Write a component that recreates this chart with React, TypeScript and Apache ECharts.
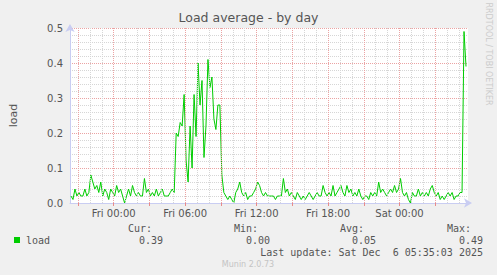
import React, { useEffect, useRef } from "react";
import * as echarts from "echarts";

// Time is expressed in minutes relative to Fri 00:00
const START_MINUTE = -215; // Thu 20:25
const STEP_MINUTES = 10;
const X_MIN = -220;
const X_MAX = 1785;

const loadValues = [
  0.02, 0.01, 0.04, 0.02, 0.03, 0.02, 0.02, 0.04, 0.02, 0.03,
  0.08, 0.06, 0.04, 0.05, 0.03, 0.06, 0.02, 0.04, 0.03, 0.01,
  0.04, 0.03, 0.02, 0.05, 0.03, 0.04, 0.02, 0.00, 0.02, 0.04,
  0.02, 0.05, 0.03, 0.02, 0.03, 0.02, 0.02, 0.07, 0.03, 0.04,
  0.02, 0.03, 0.02, 0.04, 0.02, 0.03, 0.04, 0.02, 0.02, 0.02,
  0.03, 0.04, 0.03, 0.20, 0.19, 0.23, 0.22, 0.31, 0.12, 0.06,
  0.22, 0.10, 0.31, 0.19, 0.40, 0.28, 0.35, 0.13, 0.22, 0.41,
  0.33, 0.36, 0.24, 0.21, 0.28, 0.28, 0.08, 0.03, 0.02, 0.01,
  0.02, 0.01, 0.00, 0.03, 0.04, 0.06, 0.03, 0.02, 0.03, 0.01,
  0.02, 0.02, 0.03, 0.04, 0.06, 0.05, 0.03, 0.02, 0.03, 0.02,
  0.02, 0.02, 0.02, 0.01, 0.02, 0.02, 0.02, 0.07, 0.03, 0.04,
  0.02, 0.03, 0.02, 0.01, 0.03, 0.02, 0.01, 0.02, 0.01, 0.02,
  0.03, 0.02, 0.01, 0.02, 0.03, 0.02, 0.02, 0.05, 0.03, 0.02,
  0.03, 0.02, 0.05, 0.02, 0.03, 0.04, 0.05, 0.03, 0.02, 0.05,
  0.03, 0.04, 0.02, 0.03, 0.02, 0.04, 0.02, 0.01, 0.02, 0.02,
  0.01, 0.03, 0.02, 0.03, 0.02, 0.06, 0.03, 0.04, 0.03, 0.02,
  0.03, 0.04, 0.03, 0.05, 0.03, 0.04, 0.07, 0.03, 0.02, 0.03,
  0.01, 0.00, 0.03, 0.02, 0.02, 0.04, 0.02, 0.03, 0.02, 0.03,
  0.02, 0.04, 0.05, 0.03, 0.02, 0.03, 0.01, 0.02, 0.01, 0.02,
  0.03, 0.02, 0.03, 0.01, 0.02, 0.02, 0.03, 0.03, 0.49, 0.39,
];

const xLabelMinutes = [0, 360, 720, 1080, 1440];
const xLabelTexts = ["Fri 00:00", "Fri 06:00", "Fri 12:00", "Fri 18:00", "Sat 00:00"];
const majorGridMinutes = [-180, 0, 180, 360, 540, 720, 900, 1080, 1260, 1440, 1620];
const minorGridMinutes = [
  -120, -60, 60, 120, 240, 300, 420, 480, 600, 660, 780, 840, 960, 1020,
  1140, 1200, 1320, 1380, 1500, 1560, 1680, 1740,
];

const seriesName = "load";
const statLabels = ["Cur:", "Min:", "Avg:", "Max:"];
const statValues = ["0.39", "0.00", "0.05", "0.49"];
const lastUpdateText = "Last update: Sat Dec  6 05:35:03 2025";
const titleText = "Load average - by day";
const footerText = "Munin 2.0.73";
const watermarkText = "RRDTOOL / TOBI OETIKER";

const LINE_GREEN = "#00cc00";
const MAJOR_GRID = "#eba3a3";
const MINOR_GRID = "#d6d6d6";
const AXIS_COLOR = "#c9cdf2";
const TEXT_COLOR = "#555555";
const MONO = "'DejaVu Sans Mono', monospace";
const SANS = "'DejaVu Sans', sans-serif";

export default function App() {
  const ref = useRef<HTMLDivElement>(null);

  useEffect(() => {
    if (!ref.current) return;
    const chart = echarts.init(ref.current, undefined, { renderer: "svg" });

    const data = loadValues.map((v, i) => [START_MINUTE + i * STEP_MINUTES, v]);

    const gridMarks = [
      ...minorGridMinutes.map((m) => ({
        xAxis: m,
        lineStyle: { color: MINOR_GRID, type: [1, 1], width: 1 },
      })),
      ...majorGridMinutes.map((m) => ({
        xAxis: m,
        lineStyle: { color: MAJOR_GRID, type: [1, 1], width: 1 },
      })),
    ];

    const colX = [128, 234, 340, 447];
    const valX = [139, 246, 352, 459];

    const graphics: any[] = [
      {
        type: "text",
        x: 488,
        y: 54,
        rotation: -Math.PI / 2,
        style: {
          text: watermarkText,
          fill: "#cccccc",
          font: `8px ${SANS}`,
          align: "center",
          verticalAlign: "middle",
        },
      },
      {
        type: "rect",
        shape: { x: 14, y: 237, width: 6, height: 6 },
        style: { fill: LINE_GREEN },
      },
      {
        type: "text",
        x: 26,
        y: 240,
        style: { text: seriesName, fill: TEXT_COLOR, font: `10px ${MONO}`, verticalAlign: "middle" },
      },
      ...statLabels.map((t, i) => ({
        type: "text",
        x: colX[i],
        y: 228,
        style: { text: t, fill: TEXT_COLOR, font: `10px ${MONO}`, verticalAlign: "middle" },
      })),
      ...statValues.map((t, i) => ({
        type: "text",
        x: valX[i],
        y: 240,
        style: { text: t, fill: TEXT_COLOR, font: `10px ${MONO}`, verticalAlign: "middle" },
      })),
      {
        type: "text",
        x: 483,
        y: 252,
        style: {
          text: lastUpdateText,
          fill: TEXT_COLOR,
          font: `10px ${MONO}`,
          align: "right",
          verticalAlign: "middle",
        },
      },
      {
        type: "text",
        x: 248,
        y: 264,
        style: {
          text: footerText,
          fill: "#c4c4c4",
          font: `8px ${SANS}`,
          align: "center",
          verticalAlign: "middle",
        },
      },
    ];

    chart.setOption({
      animation: false,
      backgroundColor: "#f0f0f0",
      title: {
        text: titleText,
        left: "center",
        top: 11,
        padding: 0,
        textStyle: { fontFamily: SANS, fontSize: 12.5, fontWeight: "normal", color: TEXT_COLOR },
      },
      grid: {
        left: 67,
        top: 28,
        width: 401,
        height: 175,
        show: true,
        backgroundColor: "#ffffff",
        borderWidth: 0,
      },
      xAxis: {
        type: "value",
        min: X_MIN,
        max: X_MAX,
        axisLine: {
          show: true,
          onZero: false,
          lineStyle: { color: AXIS_COLOR, width: 1 },
          symbol: ["none", "arrow"],
          symbolSize: [7, 8],
          symbolOffset: [0, 4],
        },
        axisTick: {
          show: true,
          customValues: majorGridMinutes,
          length: 3,
          inside: false,
          lineStyle: { color: "#e88a8a" },
        },
        axisLabel: {
          customValues: xLabelMinutes,
          formatter: (v: number) => {
            const idx = xLabelMinutes.indexOf(v);
            return idx >= 0 ? xLabelTexts[idx] : "";
          },
          fontFamily: SANS,
          fontSize: 10,
          color: TEXT_COLOR,
          margin: 5,
        },
        splitLine: { show: false },
      },
      yAxis: {
        type: "value",
        min: 0,
        max: 0.5,
        interval: 0.1,
        name: "load",
        nameLocation: "middle",
        nameRotate: 90,
        nameGap: 51,
        nameTextStyle: { fontFamily: SANS, fontSize: 11, color: TEXT_COLOR },
        axisLine: {
          show: true,
          onZero: false,
          lineStyle: { color: AXIS_COLOR, width: 1 },
          symbol: ["none", "arrow"],
          symbolSize: [7, 8],
          symbolOffset: [0, 4],
        },
        axisTick: { show: false },
        axisLabel: {
          formatter: (v: number) => v.toFixed(1),
          fontFamily: SANS,
          fontSize: 10,
          color: TEXT_COLOR,
          margin: 7,
        },
        splitLine: { show: true, lineStyle: { color: MAJOR_GRID, type: [1, 1], width: 1 } },
        minorTick: { show: false, splitNumber: 5 },
        minorSplitLine: { show: true, lineStyle: { color: MINOR_GRID, type: [1, 1], width: 1 } },
      },
      series: [
        {
          type: "line",
          name: "grid",
          data: [],
          z: 1,
          silent: true,
          markLine: {
            silent: true,
            symbol: ["none", "none"],
            label: { show: false },
            data: gridMarks,
          },
        },
        {
          type: "line",
          name: seriesName,
          data,
          z: 3,
          showSymbol: false,
          symbol: "none",
          lineStyle: { color: LINE_GREEN, width: 1 },
        },
      ],
      graphic: graphics,
    });

    return () => chart.dispose();
  }, []);

  return (
    <div
      ref={ref}
      style={{ position: "fixed", left: 0, top: 0, width: 497, height: 275 }}
    />
  );
}
